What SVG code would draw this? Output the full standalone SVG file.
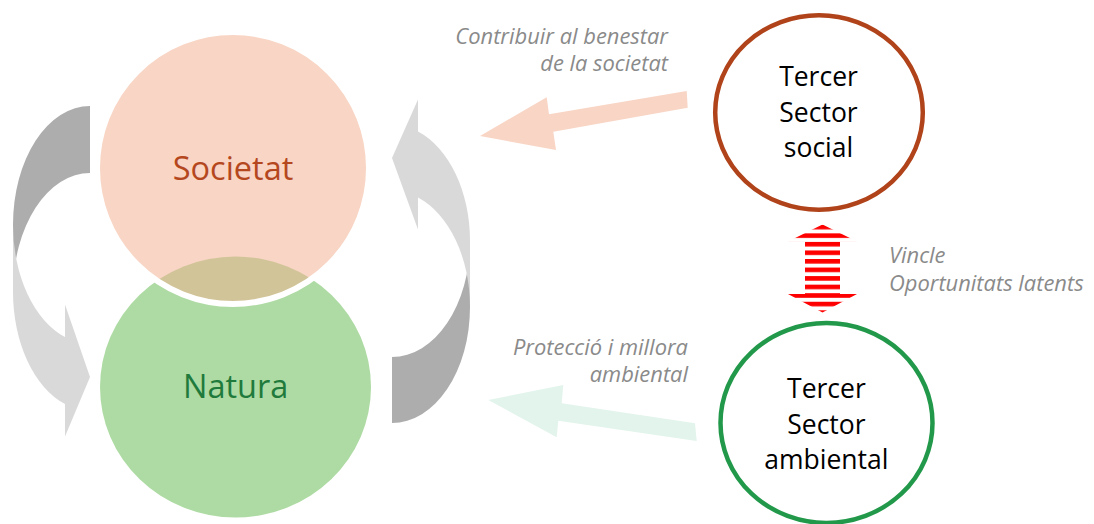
<svg xmlns="http://www.w3.org/2000/svg" width="1094" height="524" viewBox="0 0 1094 524">
  <defs>
    <style>
      .lbl { font-family: "Open Sans", "Liberation Sans", sans-serif; font-style: italic; font-size: 21.9px; fill: #8A8A8A; }
      .node-txt { font-family: "Open Sans", "Liberation Sans", sans-serif; font-size: 26.5px; fill: #000000; text-anchor: middle; }
      .big-txt { font-family: "Open Sans", "Liberation Sans", sans-serif; font-size: 32.5px; text-anchor: middle; }
      .dark { fill: #ADADAD; }
      .light { fill: #D9D9D9; }
    </style>
    <pattern id="redStripes" patternUnits="userSpaceOnUse" x="0" y="224.8" width="20" height="8.55">
      <rect x="0" y="0" width="20" height="4.6" fill="#FF0000"/>
    </pattern>
  </defs>
  <rect x="0" y="0" width="1094" height="524" fill="#FFFFFF"/>

  <g id="connectors">
    <!-- left curved cycle arrow (Societat -> Natura) -->
    <g id="cycle-left">
      <path class="dark" d="M 90,106 A 77 118.75 0 0 0 13,224.75 L 13,291.75 A 77 118.75 0 0 1 90,173 Z"/>
      <path class="light" d="M 13,224.75 A 77 118.75 0 0 0 65,337.05 L 65,304.55 L 90,377 L 65,436.55 L 65,404.05 A 77 118.75 0 0 1 13,291.75 Z"/>
    </g>
    <!-- right curved cycle arrow (Natura -> Societat) -->
    <g id="cycle-right">
      <path class="dark" d="M 392,423 A 78 116 0 0 0 470,307 L 470,241 A 78 116 0 0 1 392,357 Z"/>
      <path class="light" d="M 470,307 A 78 116 0 0 0 418,197.6 L 418,229.6 L 392,158 L 418,99.6 L 418,131.6 A 78 116 0 0 1 470,241 Z"/>
    </g>
    <!-- Tercer Sector social -> Societat -->
    <path id="arrow-social" fill="#F8D5C5" d="M 686.7,91 L 549,114.3 L 546.7,97.3 L 480,136 L 556,150 L 553.3,131.7 L 687.7,107.7 Z"/>
    <!-- Tercer Sector ambiental -> Natura -->
    <path id="arrow-ambiental" fill="#E2F4EB" d="M 695,423.3 L 561.7,403.3 L 563.3,385 L 488.3,400 L 556.7,437.3 L 558.3,420.7 L 696.7,441 Z"/>
    <!-- Vincle double arrow -->
    <path id="arrow-vincle" fill="url(#redStripes)" d="M 822.5,224.5 L 857,241.5 L 840,241.5 L 840,294 L 857,294 L 822.5,312.5 L 788,294 L 805,294 L 805,241.5 L 788,241.5 Z"/>
  </g>

  <g id="labels">
    <text class="lbl" x="668" y="44" text-anchor="end">Contribuir al benestar</text>
    <text class="lbl" x="668" y="71" text-anchor="end">de la societat</text>
    <text class="lbl" x="889" y="263">Vincle</text>
    <text class="lbl" x="889" y="291">Oportunitats latents</text>
    <text class="lbl" x="688" y="355" text-anchor="end">Protecció i millora</text>
    <text class="lbl" x="688" y="382" text-anchor="end">ambiental</text>
  </g>

  <g id="node-natura">
    <ellipse cx="235.5" cy="387" rx="135.5" ry="130.5" fill="#AEDBA3"/>
    <text class="big-txt" x="235.7" y="397.7" fill="#1F7A3C">Natura</text>
  </g>

  <g id="node-societat">
    <circle cx="233" cy="168" r="136" fill="rgb(242,175,143)" fill-opacity="0.53" stroke="#FFFFFF" stroke-width="6"/>
    <text class="big-txt" x="233" y="180" fill="#B5471E">Societat</text>
  </g>

  <g id="node-ts-social">
    <ellipse cx="819" cy="112.5" rx="103.8" ry="97.3" fill="#FFFFFF" stroke="#B0431A" stroke-width="4.5"/>
    <text class="node-txt" x="818.5" y="86">Tercer</text>
    <text class="node-txt" x="818.5" y="122">Sector</text>
    <text class="node-txt" x="818.5" y="157">social</text>
  </g>

  <g id="node-ts-ambiental">
    <ellipse cx="826.5" cy="423" rx="106" ry="99.9" fill="#FFFFFF" stroke="#22994A" stroke-width="4.5"/>
    <text class="node-txt" x="826.4" y="398">Tercer</text>
    <text class="node-txt" x="826.4" y="434">Sector</text>
    <text class="node-txt" x="826.4" y="469">ambiental</text>
  </g>
</svg>
